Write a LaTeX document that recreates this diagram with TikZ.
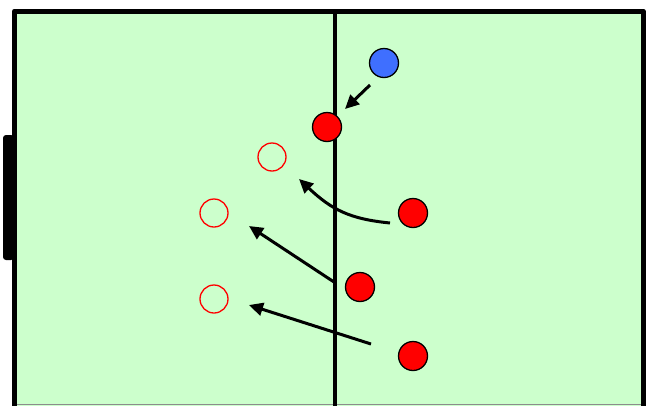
\documentclass[tikz,border=0pt]{standalone}
\usetikzlibrary{arrows.meta}
\definecolor{fieldgreen}{HTML}{CCFFCC}
\definecolor{pblue}{HTML}{3F6FFF}
\begin{document}
\begin{tikzpicture}[x=1pt,y=-1pt,
  player/.style={circle,draw=black,line width=1.3pt,fill=red,minimum size=29pt,inner sep=0pt},
  blueplayer/.style={player,fill=pblue},
  ghost/.style={circle,draw=red,line width=1.3pt,minimum size=28pt,inner sep=0pt},
  move/.style={line width=3pt,-{Triangle[length=14pt,width=13pt]}}]
\useasboundingbox (0,0) rectangle (646,405);
% field
\fill[fieldgreen] (14.5,11) rectangle (643,410);
\draw[line width=0.8pt,black!45] (14.5,404.6) -- (643,404.6);
\draw[line width=5pt,line join=round] (14.5,410) -- (14.5,11) -- (643,11) -- (643,410);
\draw[line width=4pt] (335,11) -- (335,410);
% goal
\fill[black,rounded corners=3pt] (3,135) rectangle (14,260);
% players
\node[blueplayer] (b) at (384,63) {};
\node[player] (r1) at (327,127) {};
\node[player] (r2) at (413,213) {};
\node[player] (r3) at (360,287) {};
\node[player] (r4) at (413,356) {};
% target positions
\node[ghost] (g1) at (272,157) {};
\node[ghost] (g2) at (214,213) {};
\node[ghost] (g3) at (214,299) {};
% arrow ends
\coordinate (s0) at (370,85);
\coordinate (t0) at (345,109);
\coordinate (s1) at (390,223);
\coordinate (t1) at (299,179);
\coordinate (s2) at (334,282);
\coordinate (t2) at (249,226);
\coordinate (s3) at (371,344);
\coordinate (t3) at (249,305);
\draw[move] (s0) -- (t0);
\draw[move] (s1) .. controls (350,219) and (332,210) .. (t1);
\draw[move] (s2) -- (t2);
\draw[move] (s3) -- (t3);
\end{tikzpicture}
\end{document}
